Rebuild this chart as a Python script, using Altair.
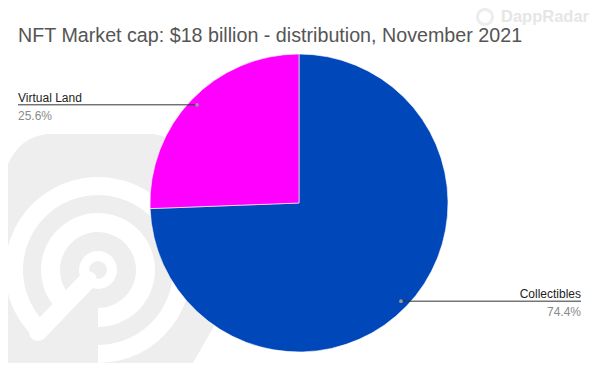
import math
import altair as alt
import pandas as pd

# ---- data ----
categories = ["Collectibles", "Virtual Land"]
shares = [74.4, 25.6]
colors = ["#0047BA", "#FF00FF"]
title_text = "NFT Market cap: $18 billion - distribution, November 2021"
brand = "DappRadar"

# ---- layout (style) ----
W, H = 584, 355
CX, CY, R = 291, 195, 149
LABEL_R = 0.95 * R
LEFT_X, RIGHT_X = 10, 573

df = pd.DataFrame({"category": categories, "share": shares, "color": colors})
total = df["share"].sum()
df["start"] = df["share"].cumsum().shift(fill_value=0) / total
df["mid"] = (df["start"] + df["share"] / total / 2) * 2 * math.pi
df["dx"] = CX + LABEL_R * df["mid"].apply(math.sin)
df["dy"] = CY - LABEL_R * df["mid"].apply(math.cos)
df["left"] = df["dx"] < CX
df["tx"] = df["left"].map({True: LEFT_X, False: RIGHT_X})
df["pct"] = df["share"].map(lambda v: f"{v:.1f}%")
df["ty1"] = df["dy"] - 7
df["ty2"] = df["dy"] + 11

base = alt.Chart(df)

pie = base.mark_arc(radius=R, stroke="white", strokeWidth=0.6).encode(
    theta=alt.Theta("share:Q", stack=True),
    color=alt.Color("color:N", scale=None),
    order=alt.Order("start:Q"),
    x=alt.value(CX), y=alt.value(CY),
)

leader = base.mark_rule(color="#333333", strokeWidth=1).encode(
    x=alt.X("tx:Q", scale=None, axis=None),
    x2="dx:Q",
    y=alt.Y("dy:Q", scale=None, axis=None),
)
dots = base.mark_circle(size=14, color="#9a9a9a", opacity=1).encode(
    x=alt.X("dx:Q", scale=None, axis=None),
    y=alt.Y("dy:Q", scale=None, axis=None),
)
left_df = df[df["left"]]
right_df = df[~df["left"]]
lab_l = alt.Chart(left_df).mark_text(align="left", font="Liberation Sans", fontSize=12, color="#222222").encode(
    x=alt.X("tx:Q", scale=None, axis=None), y=alt.Y("ty1:Q", scale=None, axis=None), text="category:N")
pct_l = alt.Chart(left_df).mark_text(align="left", font="Liberation Sans", fontSize=12, color="#8a8a8a").encode(
    x=alt.X("tx:Q", scale=None, axis=None), y=alt.Y("ty2:Q", scale=None, axis=None), text="pct:N")
lab_r = alt.Chart(right_df).mark_text(align="right", font="Liberation Sans", fontSize=12, color="#222222").encode(
    x=alt.X("tx:Q", scale=None, axis=None), y=alt.Y("ty1:Q", scale=None, axis=None), text="category:N")
pct_r = alt.Chart(right_df).mark_text(align="right", font="Liberation Sans", fontSize=12, color="#8a8a8a").encode(
    x=alt.X("tx:Q", scale=None, axis=None), y=alt.Y("ty2:Q", scale=None, axis=None), text="pct:N")

title = alt.Chart(pd.DataFrame({"t": [title_text]})).mark_text(
    align="left", baseline="alphabetic", font="Liberation Sans", fontSize=19.7, color="#555555"
).encode(x=alt.value(10), y=alt.value(34), text="t:N")

# ---- watermark (decorative) ----
verts = [(math.cos(a * math.pi / 3), math.sin(a * math.pi / 3)) for a in range(6)]
t = 0.18
parts = []
for i, (vx, vy) in enumerate(verts):
    px, py = verts[i - 1]
    nx, ny = verts[(i + 1) % 6]
    a = (vx + (px - vx) * t, vy + (py - vy) * t)
    b = (vx + (nx - vx) * t, vy + (ny - vy) * t)
    parts.append(("M" if i == 0 else "L") + f"{a[0]:.3f},{a[1]:.3f}")
    parts.append(f"Q{vx:.3f},{vy:.3f},{b[0]:.3f},{b[1]:.3f}")
hex_path = "".join(parts) + "Z"

wm_df = pd.DataFrame({"k": [0]})
hexagon = alt.Chart(wm_df).mark_point(
    shape=hex_path, size=90000, filled=True, fill="#eeeeee", opacity=1, strokeWidth=0
).encode(x=alt.value(92), y=alt.value(256))

LX, LY = 90, 262
a0, a1 = 225 * math.pi / 180, 540 * math.pi / 180
ring_outer = alt.Chart(wm_df).mark_arc(radius=93, radius2=75, theta=a0, theta2=a1, color="white").encode(
    x=alt.value(LX), y=alt.value(LY))
ring_mid = alt.Chart(wm_df).mark_arc(radius=57, radius2=38, theta=a0, theta2=a1, color="white").encode(
    x=alt.value(LX), y=alt.value(LY))
ring_in = alt.Chart(wm_df).mark_arc(radius=19, radius2=9, theta=0, theta2=2 * math.pi, color="white").encode(
    x=alt.value(LX), y=alt.value(LY))
handle = alt.Chart(wm_df).mark_rule(color="white", strokeWidth=18, strokeCap="round").encode(
    x=alt.value(LX - 10), y=alt.value(LY + 10), x2=alt.value(LX - 60), y2=alt.value(LY + 62))

brand_icon = alt.Chart(wm_df).mark_point(shape="circle", size=230, filled=False, strokeWidth=3, color="#e6e6e6").encode(
    x=alt.value(477), y=alt.value(9))
brand_txt = alt.Chart(pd.DataFrame({"t": [brand]})).mark_text(
    align="left", baseline="middle", font="Liberation Sans", fontSize=16.5, fontWeight="bold", color="#e6e6e6"
).encode(x=alt.value(493), y=alt.value(9), text="t:N")

chart = alt.layer(
    hexagon, ring_outer, ring_mid, ring_in, handle,
    pie, leader, dots, lab_l, pct_l, lab_r, pct_r, title, brand_icon, brand_txt
).properties(
    width=W, height=H, autosize=alt.AutoSizeParams(type="none"), padding=0
).configure_view(stroke=None)

chart.save("out.html", embed_options={"renderer": "svg", "actions": False})
